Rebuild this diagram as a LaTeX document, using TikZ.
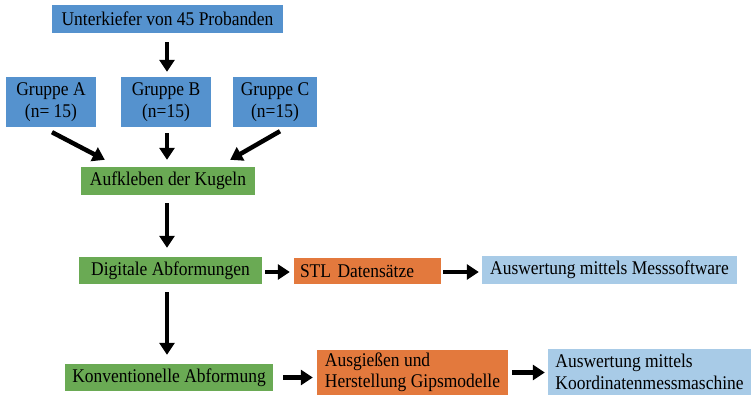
\documentclass[tikz,border=0pt]{standalone}
\usepackage{fontspec}
\setmainfont{Liberation Serif}[FakeStretch=0.9]
\usetikzlibrary{arrows.meta,calc}
\definecolor{cblue}{HTML}{5592CE}
\definecolor{cgreen}{HTML}{6AAA54}
\definecolor{corange}{HTML}{E3793D}
\definecolor{clight}{HTML}{A8CBE7}
\tikzset{
  box/.style={inner xsep=6pt, inner ysep=0pt, font=\fontsize{19.4}{21.5}\selectfont, text=black},
  arr/.style={line width=4.5pt, -{Triangle[length=12pt,width=15pt]}}
}
\begin{document}
\begin{tikzpicture}[x=1pt,y=-1pt]
\useasboundingbox (0,0) rectangle (751,399);
\fill[white] (0,0) rectangle (751,399);
\node[box, fill=cblue, minimum width=231pt, minimum height=28pt, align=center] (unter) at (167.5,19) {Unterkiefer von 45 Probanden};
\node[box, fill=cblue, minimum width=90pt, minimum height=50pt, align=center] (ga) at (51,102) {Gruppe A\\(n= 15)};
\node[box, fill=cblue, minimum width=90pt, minimum height=50pt, align=center] (gb) at (166,102) {Gruppe B\\(n=15)};
\node[box, fill=cblue, minimum width=84pt, minimum height=50pt, align=center] (gc) at (275,102) {Gruppe C\\(n=15)};
\node[box, fill=cgreen, minimum width=174pt, minimum height=28pt, align=center] (auf) at (168,181) {Aufkleben der Kugeln};
\node[box, fill=cgreen, minimum width=183pt, minimum height=27pt, align=center] (dig) at (170.5,270.5) {Digitale Abformungen};
\node[box, fill=corange, text width=135pt, minimum height=26pt, align=left] (stl) at (367.5,271) {STL Datensätze};
\node[box, fill=clight, minimum width=255pt, minimum height=28pt, align=center] (mess) at (609.5,270) {Auswertung mittels Messsoftware};
\node[box, fill=cgreen, minimum width=208pt, minimum height=27pt, align=center] (konv) at (169,377.5) {Konventionelle Abformung};
\node[box, fill=corange, inner xsep=2pt, minimum width=191pt, minimum height=45pt, align=left] (aus) at (412.5,372.5) {Ausgießen und\\Herstellung Gipsmodelle};
\node[box, fill=clight, inner xsep=2pt, minimum width=203pt, minimum height=46pt, align=left] (koord) at (649.5,372) {Auswertung mittels\\Koordinatenmessmaschine};

\draw[arr] ($(gb.north |- unter.south)+(1,9)$) -- ($(gb.north)+(1,-5)$);
\draw[arr] ($(ga.south)+(1,5)$) -- ($(auf.north west)+(24,-7)$);
\draw[arr] ($(gb.south)+(1,6)$) -- ($(gb.south |- auf.north)+(1,-7)$);
\draw[arr] ($(gc.south)+(5,4)$) -- ($(auf.north east)+(-25,-7)$);
\draw[arr] ($(auf.south)+(-1,8)$) -- ($(auf.south |- dig.north)+(-1,-9)$);
\draw[arr] ($(auf.south |- dig.south)+(-1,8)$) -- ($(auf.south |- konv.north)+(-1,-9)$);
\draw[arr] ($(dig.east)+(3,1.5)$) -- ($(stl.west |- dig.east)+(-4,1.5)$);
\draw[arr] ($(stl.east)+(2,1)$) -- ($(mess.west |- stl.east)+(-3,1)$);
\draw[arr] ($(konv.east)+(10,0)$) -- ($(aus.west |- konv.east)+(-4,0)$);
\draw[arr] ($(aus.east)+(4,0)$) -- ($(koord.west |- aus.east)+(-3,0)$);
\end{tikzpicture}
\end{document}
